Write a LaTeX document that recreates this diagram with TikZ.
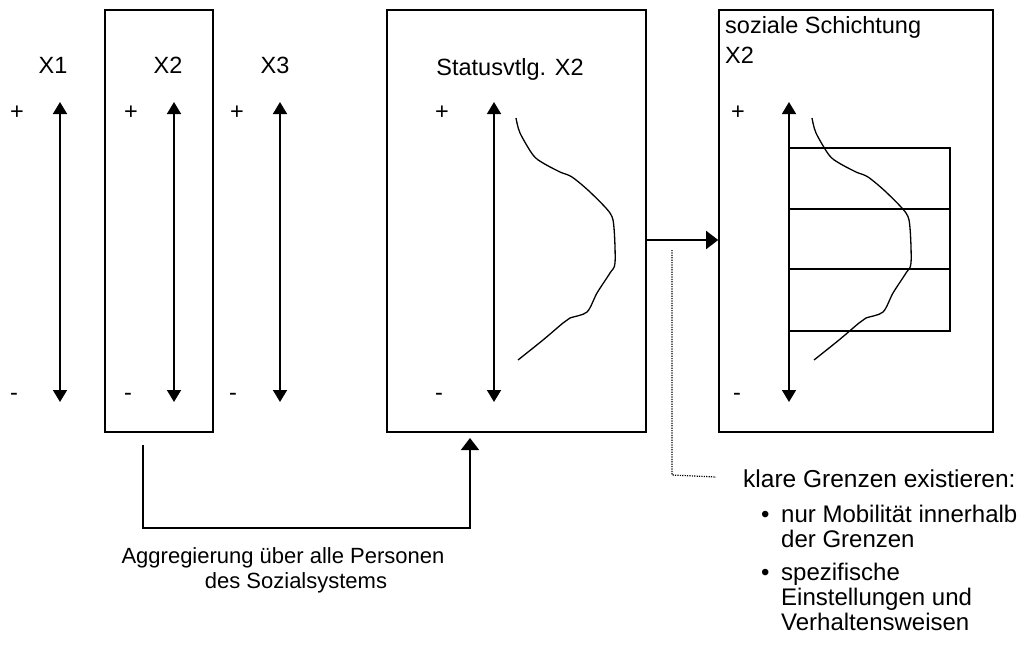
\documentclass[tikz,border=0pt]{standalone}
\usepackage{fontspec}
\setmainfont{Liberation Sans}
\usetikzlibrary{arrows.meta}
\begin{document}
\begin{tikzpicture}[x=1pt,y=-1pt,
  box/.style={draw, line width=1.6pt, rectangle, inner sep=0pt},
  axis/.style={line width=1.6pt, {Triangle[length=12pt,width=14pt]}-{Triangle[length=12pt,width=14pt]}},
  conn/.style={line width=1.6pt, -{Triangle[length=12pt,width=18pt]}},
  lbl/.style={font=\fontsize{23.5}{28}\selectfont, inner sep=0pt},
  small/.style={font=\fontsize{22}{25}\selectfont, inner sep=0pt},
  big/.style={font=\fontsize{24.5}{28}\selectfont, inner sep=0pt, align=left},
  item/.style={font=\fontsize{24}{25}\selectfont, inner sep=0pt, align=left},
  distr/.style={line width=1.3pt},
  strata/.style={line width=1.6pt},
  hint/.style={line width=1.2pt, dash pattern=on 1.2pt off 1.2pt},
  ]
\useasboundingbox (0,0) rectangle (1018,651);
% boxes
\node[box, minimum width=108pt, minimum height=422pt] (b1) at (159,221) {};
\node[box, minimum width=259pt, minimum height=422pt] (b2) at (516.5,221) {};
\node[box, minimum width=274pt, minimum height=422pt] (b3) at (856,221) {};
% axes
\coordinate (a1t) at (60,102);  \coordinate (a1b) at (60,402);
\coordinate (a2t) at (174,102); \coordinate (a2b) at (174,402);
\coordinate (a3t) at (280,102); \coordinate (a3b) at (280,402);
\coordinate (a4t) at (494,102); \coordinate (a4b) at (494,402);
\coordinate (a5t) at (789,102); \coordinate (a5b) at (789,402);
\foreach \i in {1,...,5} {\draw[axis] (a\i t) -- (a\i b);}
% labels
\node[lbl, anchor=base] (x1) at (53,73) {X1};
\node[lbl, anchor=base] (x2) at (168,73) {X2};
\node[lbl, anchor=base] (x3) at (275,73) {X3};
\node[lbl, anchor=base] (st) at (510,75) {Statusvtlg. X2};
\node[lbl, anchor=base west, align=left, font=\fontsize{23.5}{30}\selectfont] (ss) at (725,63) {soziale Schichtung\\X2};
\foreach \x/\n in {17/p1,131/p2,237/p3,442/p4,738/p5} {\node[lbl] (\n) at (\x,113) {+};}
\foreach \x/\n in {14/m1,128/m2,233/m3,439/m4,737/m5} {\node[lbl] (\n) at (\x,397) {-};}
% distribution curves
\def\bell{(516,118) (520,133) (533,155) (543,163) (560,172) (572,177) (590,192) (610,213) (614,228) (615,263) (610,273) (597,293) (587,312) (570,318) (563,323) (543,340) (518,360)}
\draw[distr] plot[smooth, tension=0.5] coordinates {\bell};
\begin{scope}[xshift=296pt]
\draw[distr] plot[smooth, tension=0.5] coordinates {\bell};
\end{scope}
% strata
\draw[strata] (789,148) rectangle (950,331);
\draw[strata] (789,209) -- (950,209);
\draw[strata] (789,269) -- (950,269);
% connectors
\draw[conn] (b2.east |- 0,240) -- (b3.west |- 0,240);
\coordinate (aggS) at (143,445);
\coordinate (aggE) at (470,438);
\draw[conn] (aggS) -- (143,528) -| (aggE);
\coordinate (dotS) at (672,250);
\coordinate (dotE) at (716,477);
\draw[hint] (dotS) -- (672,475) -- (dotE);
% bottom text
\node[small, anchor=base] (agg1) at (283,563) {Aggregierung über alle Personen};
\node[small, anchor=base] (agg2) at (296,588) {des Sozialsystems};
% right text
\node[big, anchor=base west] (kg) at (743,487) {klare Grenzen existieren:};
\node[item, anchor=base west] (bu1) at (761,522) {•};
\node[item, anchor=base west] (t1) at (781,547) {nur Mobilität innerhalb\\der Grenzen};
\node[item, anchor=base west] (bu2) at (761,580) {•};
\node[item, anchor=base west] (t2) at (781,630) {spezifische\\Einstellungen und\\Verhaltensweisen};
\end{tikzpicture}
\end{document}
